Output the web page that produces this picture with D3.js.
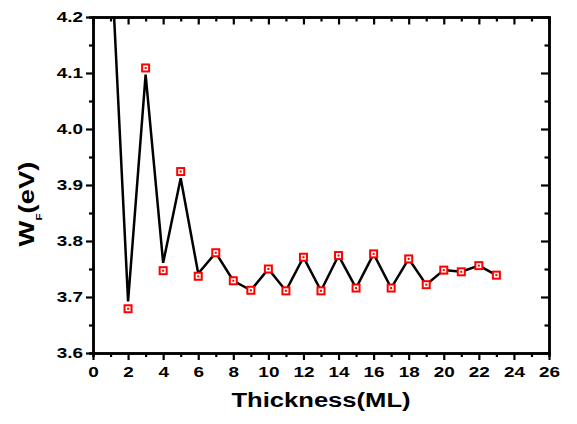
<!DOCTYPE html>
<html>
<head>
<meta charset="utf-8">
<script src="https://cdnjs.cloudflare.com/ajax/libs/d3/7.8.5/d3.min.js"></script>
<style>
  body { margin: 0; background: #fff; }
  svg text { font-family: "Liberation Sans", Arial, sans-serif; font-weight: bold; fill: #000; }
</style>
</head>
<body>
<div id="chart"></div>
<script>
// --- data
var thickness = [2, 3, 4, 5, 6, 7, 8, 9, 10, 11, 12, 13, 14, 15, 16, 17, 18, 19, 20, 21, 22, 23];
var workFunction = [3.679, 4.109, 3.747, 3.924, 3.737, 3.779, 3.729, 3.712, 3.750, 3.711, 3.771, 3.711,
                    3.774, 3.716, 3.777, 3.716, 3.768, 3.722, 3.748, 3.745, 3.756, 3.739];
// the black line is a separate series, slightly off the markers for small thickness
var lineThickness = [1, 2, 3, 4, 5, 6, 7, 8, 9, 10, 11, 12, 13, 14, 15, 16, 17, 18, 19, 20, 21, 22, 23];
var lineValues = [4.33, 3.692, 4.097, 3.761, 3.912, 3.742, 3.779, 3.729, 3.712, 3.750, 3.711, 3.771, 3.711,
                  3.774, 3.716, 3.777, 3.716, 3.768, 3.722, 3.748, 3.745, 3.756, 3.739];
var xMajorTicks = [0, 2, 4, 6, 8, 10, 12, 14, 16, 18, 20, 22, 24, 26];
var xMinorTicks = [1, 3, 5, 7, 9, 11, 13, 15, 17, 19, 21, 23, 25];
var yMajorTicks = [3.6, 3.7, 3.8, 3.9, 4.0, 4.1, 4.2];
var yMinorTicks = [3.65, 3.75, 3.85, 3.95, 4.05, 4.15];

var width = 577, height = 424;
var margin = {top: 17, right: 28, bottom: 71, left: 93};
var stretch = 1.22; // origin-style wide lettering

var svg = d3.select('#chart').append('svg')
    .attr('width', width)
    .attr('height', height);

var x = d3.scaleLinear().domain([0, 26]).range([margin.left, width - margin.right]);
var y = d3.scaleLinear().domain([3.6, 4.2]).range([height - margin.bottom, margin.top]);

svg.append('clipPath').attr('id', 'plot-clip')
  .append('rect')
    .attr('x', x(0)).attr('y', y(4.2))
    .attr('width', x(26) - x(0)).attr('height', y(3.6) - y(4.2));

// --- axes
function styleAxis(g) {
  g.select('.domain').attr('stroke', '#000').attr('stroke-width', 2.5);
  g.selectAll('.tick line').attr('stroke', '#000').attr('stroke-width', 2.2);
}

// bottom
svg.append('g')
    .attr('transform', 'translate(0,' + y(3.6) + ')')
    .call(d3.axisBottom(x).tickValues(xMinorTicks).tickSize(4).tickFormat(''))
    .call(styleAxis);
var xAxis = svg.append('g')
    .attr('transform', 'translate(0,' + y(3.6) + ')')
    .call(d3.axisBottom(x).tickValues(xMajorTicks).tickSizeInner(7).tickSizeOuter(0).tickPadding(6)
      .tickFormat(d3.format('d')))
    .call(styleAxis);
xAxis.selectAll('text')
    .attr('font-size', 15.5)
    .attr('transform', 'scale(' + stretch + ',1)');

// top (ticks inward)
svg.append('g')
    .attr('transform', 'translate(0,' + y(4.2) + ')')
    .call(d3.axisTop(x).tickValues(xMinorTicks).tickSize(-4.5).tickFormat(''))
    .call(styleAxis);
svg.append('g')
    .attr('transform', 'translate(0,' + y(4.2) + ')')
    .call(d3.axisTop(x).tickValues(xMajorTicks).tickSizeInner(-7.5).tickSizeOuter(0).tickFormat(''))
    .call(styleAxis);

// left
svg.append('g')
    .attr('transform', 'translate(' + x(0) + ',0)')
    .call(d3.axisLeft(y).tickValues(yMinorTicks).tickSize(4).tickFormat(''))
    .call(styleAxis);
var yAxis = svg.append('g')
    .attr('transform', 'translate(' + x(0) + ',0)')
    .call(d3.axisLeft(y).tickValues(yMajorTicks).tickSizeInner(7).tickSizeOuter(0).tickPadding(3)
      .tickFormat(d3.format('.1f')))
    .call(styleAxis);
yAxis.selectAll('text')
    .attr('font-size', 15.5)
    .attr('x', -10 / stretch)
    .attr('transform', 'scale(' + stretch + ',1)');

// right (ticks inward)
svg.append('g')
    .attr('transform', 'translate(' + x(26) + ',0)')
    .call(d3.axisRight(y).tickValues(yMinorTicks).tickSize(-4.5).tickFormat(''))
    .call(styleAxis);
svg.append('g')
    .attr('transform', 'translate(' + x(26) + ',0)')
    .call(d3.axisRight(y).tickValues(yMajorTicks).tickSizeInner(-8).tickSizeOuter(0).tickFormat(''))
    .call(styleAxis);

// --- line
var line = d3.line()
    .x(function(d, i) { return x(lineThickness[i]); })
    .y(function(d) { return y(d); });

svg.append('path')
    .datum(lineValues)
    .attr('clip-path', 'url(#plot-clip)')
    .attr('fill', 'none')
    .attr('stroke', '#000')
    .attr('stroke-width', 2.5)
    .attr('stroke-linejoin', 'miter')
    .attr('d', line);

// --- markers: open red squares with a dot
var pts = svg.append('g').selectAll('g')
    .data(workFunction)
    .enter().append('g')
    .attr('transform', function(d, i) { return 'translate(' + x(thickness[i]) + ',' + y(d) + ')'; });

pts.append('rect')
    .attr('x', -3.5).attr('y', -3.5)
    .attr('width', 7).attr('height', 7)
    .attr('fill', '#fff')
    .attr('stroke', '#ff0000')
    .attr('stroke-width', 2);

pts.append('rect')
    .attr('x', -1).attr('y', -1)
    .attr('width', 2).attr('height', 2)
    .attr('fill', '#ff0000');

// --- axis titles
svg.append('text')
    .attr('text-anchor', 'middle')
    .attr('font-size', 21)
    .attr('transform', 'translate(' + ((x(0) + x(26)) / 2) + ',407) scale(' + stretch + ',1)')
    .text('Thickness(ML)');

var yTitle = svg.append('text')
    .attr('text-anchor', 'middle')
    .attr('font-size', 22.5)
    .attr('transform', 'translate(33.5,204) rotate(-90) scale(' + stretch + ',1)');
yTitle.append('tspan').text('W');
yTitle.append('tspan').attr('font-size', 9.5).attr('dy', 8).text('F');
yTitle.append('tspan').attr('dy', -8).text('(eV)');
</script>
</body>
</html>
